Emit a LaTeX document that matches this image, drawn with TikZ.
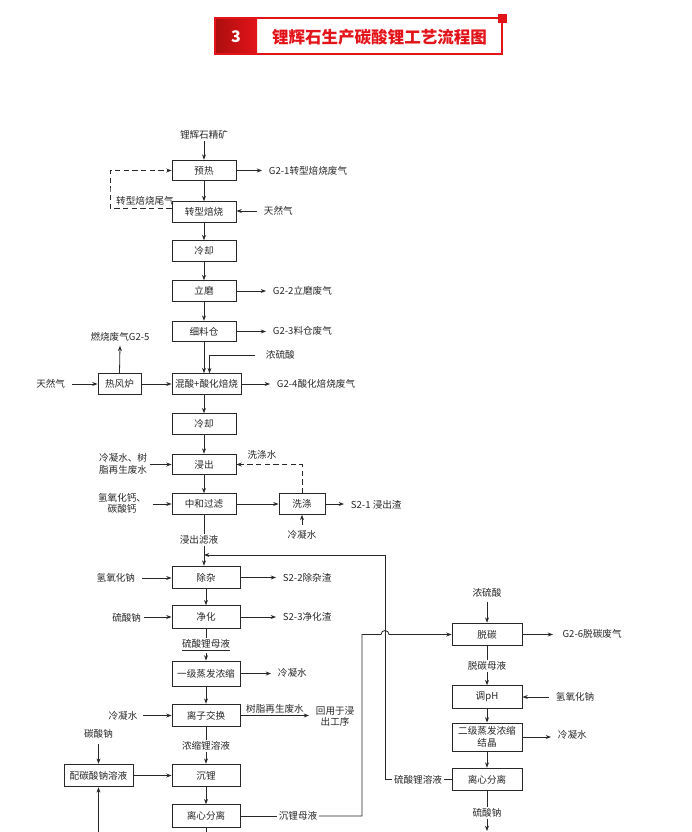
\documentclass[tikz,border=0pt]{standalone}
\usepackage{fontspec}
\setmainfont{Noto Sans CJK SC}
\usetikzlibrary{arrows.meta,calc}
\definecolor{tred}{RGB}{226,20,26}
\definecolor{tdark}{RGB}{172,14,14}
\definecolor{ink}{RGB}{40,40,40}
\begin{document}
\begin{tikzpicture}[x=0.75pt,y=-0.75pt,
  font=\fontsize{7.2}{8.6}\selectfont,
  every node/.style={text=ink},
  topbox/.style={draw=ink,line width=0.7pt,minimum width=48pt,minimum height=15.5pt,inner sep=0pt,align=center},
  lowbox/.style={topbox,minimum width=51pt,minimum height=17pt},
  rbox/.style={topbox,minimum width=52.5pt,minimum height=17pt},
  lbl/.style={inner sep=1pt,align=center},
  rl/.style={lbl,anchor=west,inner xsep=5pt},
  ll/.style={lbl,anchor=east,inner xsep=5pt},
  ln/.style={draw=ink,line width=0.6pt},
  arr/.style={ln,-{Stealth[length=4pt,width=3pt]}},
  dsh/.style={arr,dash pattern=on 4pt off 2.5pt}]
\useasboundingbox (0,0) rectangle (692,832);

% ---------- title ----------
\shade[left color=tdark,right color=tred] (215,18) rectangle (257,54);
\draw[tred,line width=0.9pt] (215,18) rectangle (502,54);
\fill[tred] (497.5,13.5) rectangle (506.5,22.5);
\node[text=white,font=\fontsize{12}{12}\bfseries\selectfont] (num) at (236,36.5) {3};
\node[text=tred,font=\fontsize{12.4}{13}\bfseries\selectfont] (title) at (379.5,37) {锂辉石生产碳酸锂工艺流程图};

% ---------- boxes ----------
\node[topbox] (yure) at (204,170.5) {预热};
\node[topbox] (zxbs) at (204,212) {转型焙烧};
\node[topbox] (lq1) at (204,251) {冷却};
\node[topbox] (lm) at (204,291) {立磨};
\node[topbox] (xlc) at (204,331.5) {细料仓};
\node[topbox,minimum width=51.75pt] (hs) at (206.5,384) {混酸+酸化焙烧};
\node[topbox,minimum width=32.25pt] (rfl) at (119.5,384) {热风炉};
\node[topbox] (lq2) at (204,424) {冷却};
\node[topbox] (jc) at (204,464.5) {浸出};
\node[topbox] (zh) at (204,504) {中和过滤};
\node[topbox,minimum width=34.5pt] (xd) at (302,504) {洗涤};

\node[lowbox] (cz) at (206,577.5) {除杂};
\node[lowbox] (jh) at (206,617) {净化};
\node[lowbox,minimum height=18.75pt] (yj) at (206,673.5) {一级蒸发浓缩};
\node[lowbox] (lz) at (206,715.5) {离子交换};
\node[lowbox] (cl) at (206,775.5) {沉锂};
\node[lowbox] (lx) at (206,816) {离心分离};
\node[lowbox,minimum width=51.75pt] (pt) at (98.5,775.5) {配碳酸钠溶液};

\node[rbox] (tt) at (487,634.5) {脱碳};
\node[rbox] (ph) at (487,697) {调pH};
\node[rbox,minimum height=21pt] (ej) at (487,737) {二级蒸发浓缩\\结晶};
\node[rbox] (lx2) at (487,779.5) {离心分离};

% ---------- labels ----------
\node[lbl] (t0) at (204,135) {锂辉石精矿};
\node[rl] (g21) at (262,171) {G2-1转型焙烧废气};
\node[lbl] (wq) at (145,201) {转型焙烧尾气};
\node[rl] (tr1) at (257,211) {天然气};
\node[rl] (g22) at (266,291) {G2-2立磨废气};
\node[rl] (g23) at (266,331) {G2-3料仓废气};
\node[lbl,anchor=west,inner xsep=8pt] (nls1) at (255,355) {浓硫酸};
\node[rl] (g24) at (270,384) {G2-4酸化焙烧废气};
\node[ll] (tr2) at (72,384) {天然气};
\node[lbl,inner ysep=3pt] (g25) at (120,337) {燃烧废气G2-5};
\node[ll,inner xsep=2pt] (lns) at (150,464) {冷凝水、树\\脂再生废水};
\node[ll] (qyg) at (153,503.5) {氢氧化钙、\\碳酸钙};
\node[rl] (s21) at (344,505) {S2-1 浸出渣};
\node[lbl,inner ysep=4pt] (lns2) at (302,535) {冷凝水};
\node[lbl] (xds) at (262,455) {洗涤水};
\node[lbl] (jcl) at (199,540) {浸出滤液};

\node[ll] (qyn) at (142,578) {氢氧化钠};
\node[ll,inner xsep=2pt] (lsn) at (144,617.5) {硫酸钠};
\node[rl] (s22) at (276,578) {S2-2除杂渣};
\node[rl] (s23) at (276,617) {S2-3净化渣};
\node[lbl] (lsm) at (206,645.5) {\underline{硫酸锂母液}};
\node[rl] (lns3) at (271,673) {冷凝水};
\node[ll,inner xsep=4pt] (lns4) at (143,716) {冷凝水};
\node[lbl] (szf) at (275,709) {树脂再生废水};
\node[rl] (hy) at (309,716.5) {回用于浸\\出工序};
\node[lbl] (nsl) at (206,746) {浓缩锂溶液};
\node[lbl,inner ysep=4pt] (tsn) at (98.5,734) {碳酸钠};
\node[lbl] (clm) at (298,816) {沉锂母液};

\node[lbl,inner ysep=3pt] (nls2) at (487,593) {浓硫酸};
\node[rl,inner xsep=7pt] (g26) at (553,634) {G2-6脱碳废气};
\node[lbl] (tcm) at (487,666) {脱碳母液};
\node[rl] (qyn2) at (549,697) {氢氧化钠};
\node[rl] (lns5) at (551,735) {冷凝水};
\node[lbl] (sly) at (418,779.5) {硫酸锂溶液};
\node[lbl] (lsn2) at (487,813) {硫酸钠};

\coordinate (dl) at (110,190);
\coordinate (rt) at (385,555);
\coordinate (cb) at (362,634.5);
\coordinate (bl) at (98.5,832);
\coordinate (bm) at (206,832);
\coordinate (br) at (487,831);

% ---------- connectors ----------
\draw[arr] (t0) -- (yure);
\draw[arr] (yure) -- (zxbs);
\draw[arr] (yure.east) -- (yure.east -| g21.west);
\draw[dsh] ([yshift=3pt]zxbs.west) -| (dl) |- (yure.west);
\draw[arr] (tr1.west) -- (tr1.west -| zxbs.east);
\draw[arr] (zxbs) -- (lq1);
\draw[arr] (lq1) -- (lm);
\draw[arr] (lm) -- (xlc);
\draw[arr] (lm.east) -- (lm.east -| g22.west);
\draw[arr] (xlc.east) -- (xlc.east -| g23.west);
\draw[arr] (xlc.south) -- (xlc.south |- hs.north);
\draw[arr] (nls1.west) -| ([xshift=2.25pt]hs.north);
\draw[arr] (hs.east) -- (hs.east -| g24.west);
\draw[arr] (tr2.east) -- (rfl.west);
\draw[arr] (rfl.east) -- (hs.west);
\draw[arr] (rfl.north) -- (g25.south);
\draw[arr] (hs.south -| lq2.north) -- (lq2.north);
\draw[arr] (lq2) -- (jc);
\draw[arr] (lns.east |- jc.west) -- (jc.west);
\draw[arr] (jc) -- (zh);
\draw[arr] (qyg.east |- zh.west) -- (zh.west);
\draw[arr] (zh) -- (xd);
\draw[arr] (xd.east) -- (xd.east -| s21.west);
\draw[arr] (lns2.north) -- (xd.south);
\draw[dsh] (xd.north) |- (jc.east);
\draw[ln] (zh.south) -- (zh.south |- jcl.north);
\draw[arr] (zh.south |- jcl.south) -- (zh.south |- cz.north);

\draw[arr] (qyn.east) -- (qyn.east -| cz.west);
\draw[arr] (cz.east) -- (cz.east -| s22.west);
\draw[arr] (cz) -- (jh);
\draw[arr] (lsn.east |- jh.west) -- (jh.west);
\draw[arr] (jh.east) -- (jh.east -| s23.west);
\draw[ln] (jh.south) -- (lsm.north);
\draw[arr] (lsm.south) -- (yj.north);
\draw[arr] (yj.east) -- (yj.east -| lns3.west);
\draw[arr] (yj) -- (lz);
\draw[arr] (lns4.east |- lz.west) -- (lz.west);
\draw[arr] (lz.east) -- (lz.east -| hy.west);
\draw[ln] (lz.south) -- (nsl.north);
\draw[arr] (nsl.south) -- (cl.north);
\draw[arr] (tsn.south) -- (pt.north);
\draw[arr] (bl) -- (pt.south);
\draw[arr] (pt) -- (cl);
\draw[arr] (cl) -- (lx);
\draw[ln] (lx) -- (bm);
\draw[ln] (lx.east) -- (clm.west);
\draw[arr] (clm.east) -| (cb) -- ($(rt |- tt.west)+(-4,0)$) arc[start angle=180,end angle=0,radius=3pt] -- (tt.west);

\draw[arr] (nls2.south) -- (tt.north);
\draw[arr] (tt.east) -- (tt.east -| g26.west);
\draw[ln] (tt.south) -- (tcm.north);
\draw[arr] (tcm.south) -- (ph.north);
\draw[arr] (qyn2.west) -- (qyn2.west -| ph.east);
\draw[arr] (ph) -- (ej);
\draw[arr] (ej.east) -- (ej.east -| lns5.west);
\draw[arr] (ej) -- (lx2);
\draw[ln] (lx2.west) -- (sly.east);
\draw[arr] (sly.west) -| (rt) -- (rt -| zh.south);
\draw[ln] (lx2.south) -- (lsn2.north);
\draw[arr] (lsn2.south) -- (br);
\end{tikzpicture}
\end{document}
